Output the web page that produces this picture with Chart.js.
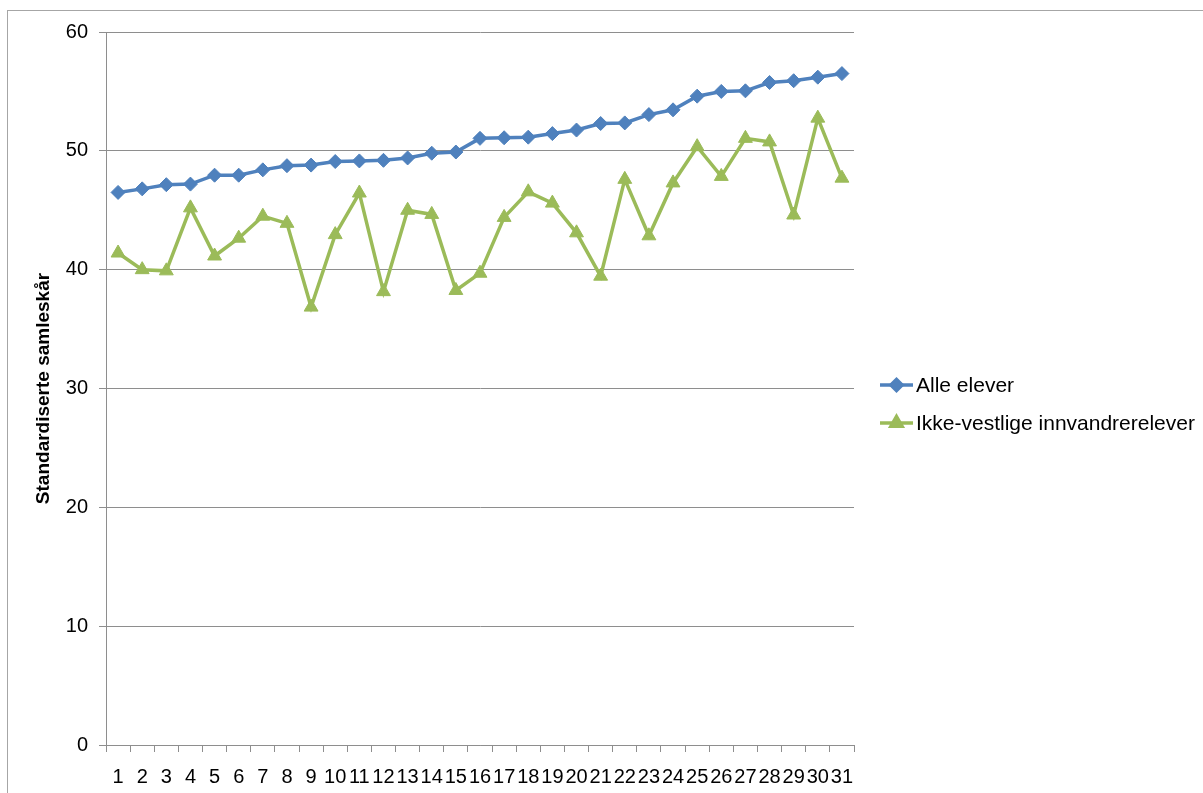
<!DOCTYPE html>
<html>
<head>
<meta charset="utf-8">
<title>Standardiserte samleskår</title>
<script src="https://cdn.jsdelivr.net/npm/chart.js@4/dist/chart.umd.min.js"></script>
<style>
  html, body { margin: 0; padding: 0; background: #ffffff; }
  #wrap { width: 1203px; height: 793px; position: relative; }
</style>
</head>
<body>
<div id="wrap"><canvas id="chart" width="1203" height="793"></canvas></div>
<script>
// Skoler 1–31, sortert etter gjennomsnitt for alle elever
const categories = ['1','2','3','4','5','6','7','8','9','10','11','12','13','14','15','16',
  '17','18','19','20','21','22','23','24','25','26','27','28','29','30','31'];

const alleElever = [46.5, 46.8, 47.15, 47.2, 47.95, 47.95, 48.4, 48.75, 48.8, 49.1, 49.15, 49.2,
  49.4, 49.8, 49.9, 51.05, 51.1, 51.15, 51.45, 51.75, 52.3, 52.35, 53.05, 53.45, 54.6, 55.0,
  55.05, 55.75, 55.9, 56.2, 56.5];

const ikkeVestlige = [41.4, 40.0, 39.9, 45.2, 41.15, 42.65, 44.5, 43.9, 36.85, 42.95, 46.45, 38.15,
  45.0, 44.65, 38.25, 39.7, 44.4, 46.55, 45.6, 43.1, 39.45, 47.6, 42.85, 47.3, 50.35, 47.85,
  51.05, 50.75, 44.6, 52.75, 47.7];

const yMin = 0, yMax = 60, yStep = 10;
const yTitle = 'Standardiserte samleskår';
const seriesNames = ['Alle elever', 'Ikke-vestlige innvandrerelever'];

const BLUE = '#4F81BD';
const GREEN = '#9BBB59';
const GRID = '#8e8e8e';
const FONT = "'Liberation Sans', Arial, sans-serif";

// White background and the light outer frame of the chart object
const framePlugin = {
  id: 'frame',
  beforeDraw(chart) {
    const ctx = chart.ctx;
    ctx.save();
    ctx.fillStyle = '#ffffff';
    ctx.fillRect(0, 0, chart.width, chart.height);
    ctx.strokeStyle = '#a6a6a6';
    ctx.lineWidth = 1;
    ctx.strokeRect(7.5, 10.5, chart.width + 20, chart.height + 20);
    ctx.restore();
  }
};

// Legend to the right of the plot: line sample with marker, then the series name
const sideLegend = {
  id: 'sideLegend',
  afterDraw(chart) {
    const ctx = chart.ctx;
    const area = chart.chartArea;
    const x0 = area.right + 26;
    const rows = [area.top + 353, area.top + 391];
    ctx.save();
    chart.data.datasets.forEach((ds, i) => {
      const y = rows[i];
      ctx.strokeStyle = ds.borderColor;
      ctx.lineWidth = 3.5;
      ctx.beginPath();
      ctx.moveTo(x0, y);
      ctx.lineTo(x0 + 33, y);
      ctx.stroke();
      Chart.helpers.drawPoint(ctx, {
        pointStyle: ds.pointStyle,
        radius: ds.pointRadius * 0.8,
        rotation: 0,
        borderWidth: 1
      }, x0 + 16.5, y);
      ctx.fillStyle = ds.pointBackgroundColor;
      ctx.fill();
      ctx.fillStyle = '#000000';
      ctx.font = '21px ' + FONT;
      ctx.textBaseline = 'middle';
      ctx.textAlign = 'left';
      ctx.fillText(ds.label, x0 + 36, y + 1);
    });
    ctx.restore();
  }
};

new Chart(document.getElementById('chart'), {
  type: 'line',
  data: {
    labels: categories,
    datasets: [
      {
        label: seriesNames[0],
        data: alleElever,
        borderColor: BLUE,
        backgroundColor: BLUE,
        pointBackgroundColor: BLUE,
        pointBorderColor: BLUE,
        pointStyle: 'rectRot',
        pointRadius: 7,
        pointBorderWidth: 1,
        borderWidth: 3.5,
        tension: 0
      },
      {
        label: seriesNames[1],
        data: ikkeVestlige,
        borderColor: GREEN,
        backgroundColor: GREEN,
        pointBackgroundColor: GREEN,
        pointBorderColor: GREEN,
        pointStyle: 'triangle',
        pointRadius: 8,
        pointBorderWidth: 1,
        borderWidth: 3.5,
        tension: 0
      }
    ]
  },
  options: {
    responsive: false,
    animation: false,
    layout: { padding: { left: 0, right: 349, top: 32, bottom: 0 } },
    plugins: {
      legend: { display: false },
      tooltip: { enabled: false }
    },
    scales: {
      x: {
        type: 'category',
        offset: true,
        afterFit(scale) { scale.height = 48; },
        grid: {
          offset: true,
          drawOnChartArea: false,
          drawTicks: true,
          tickLength: 7,
          color: GRID
        },
        border: { color: GRID, width: 1 },
        ticks: {
          autoSkip: false,
          maxRotation: 0,
          minRotation: 0,
          padding: 13,
          color: '#000000',
          font: { family: FONT, size: 20 }
        }
      },
      y: {
        min: yMin,
        max: yMax,
        afterFit(scale) { scale.width = 106; },
        grid: {
          color: GRID,
          tickLength: 7,
          drawTicks: true
        },
        border: { color: GRID, width: 1 },
        ticks: {
          stepSize: yStep,
          padding: 11,
          color: '#000000',
          font: { family: FONT, size: 20 }
        },
        title: {
          display: true,
          text: yTitle,
          color: '#000000',
          font: { family: FONT, size: 19, weight: 'bold' },
          padding: { top: 32, bottom: 0 }
        }
      }
    }
  },
  plugins: [framePlugin, sideLegend]
});
</script>
</body>
</html>
